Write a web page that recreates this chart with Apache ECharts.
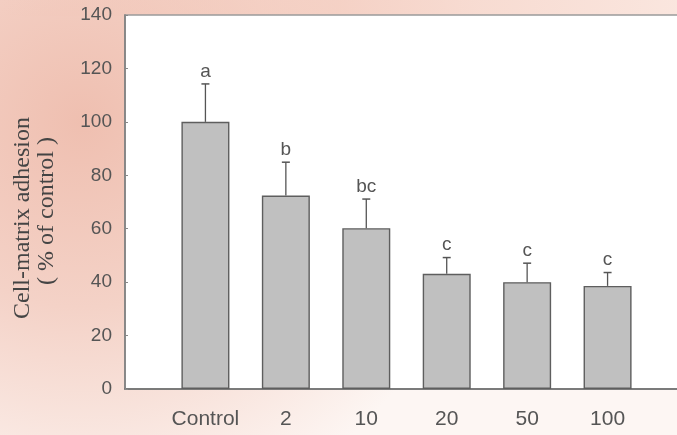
<!DOCTYPE html>
<html>
<head>
<meta charset="utf-8">
<script src="https://cdn.jsdelivr.net/npm/echarts@6/dist/echarts.min.js"></script>
<style>html,body{margin:0;padding:0;background:#fff}#c{width:677px;height:435px}</style>
</head>
<body>
<div id="c"></div>
<script>
var categories = ['Control', '2', '10', '20', '50', '100'];
var means = [100, 72.4, 60.2, 43.1, 40.0, 38.6];
var sds = [14.2, 12.5, 10.9, 6.1, 7.1, 5.0];
var letters = ['a', 'b', 'bc', 'c', 'c', 'c'];
var yTicks = [0, 20, 40, 60, 80, 100, 120, 140];

var axisData = [''].concat(categories).concat(['']);
var barData = [null].concat(means).concat([null]);
var errData = categories.map(function (c, i) { return [i + 1, means[i], means[i] + sds[i]]; });

var sans = "'Liberation Sans', Arial, sans-serif";
var serif = "'Liberation Serif', 'Times New Roman', serif";
var chart = echarts.init(document.getElementById('c'));
chart.setOption({
  animation: false,
  backgroundColor: new echarts.graphic.RadialGradient(0.12, 0.28, 0.95, [
    {offset: 0, color: '#efbfb0'},
    {offset: 0.45, color: '#f4d2c7'},
    {offset: 1, color: '#fdf6f3'}
  ]),
  graphic: [
    {type: 'rect', left: 0, top: 0, z: -1, shape: {width: 677, height: 16},
     style: {fill: new echarts.graphic.LinearGradient(0, 0, 1, 0, [
       {offset: 0, color: 'rgba(240,195,180,0)'},
       {offset: 0.5, color: 'rgba(244,205,192,0.8)'},
       {offset: 1, color: 'rgba(250,228,220,0.9)'}
     ])}},
    {type: 'text', x: 23, y: 218, rotation: Math.PI / 2,
     style: {text: 'Cell-matrix adhesion', fill: '#444', font: "24px " + serif, align: 'center', verticalAlign: 'middle'}},
    {type: 'text', x: 47, y: 211, rotation: Math.PI / 2,
     style: {text: '( % of control )', fill: '#444', font: "24px " + serif, align: 'center', verticalAlign: 'middle'}}
  ],
  grid: {left: 125, top: 15, height: 374, width: 563, outerBoundsMode: 'none', containLabel: false,
         show: true, backgroundColor: '#ffffff', borderColor: '#9a9a9a', borderWidth: 1.6},
  xAxis: {
    type: 'category', data: axisData, boundaryGap: false,
    axisLine: {lineStyle: {color: '#6a6a6a', width: 1.6}},
    axisTick: {show: true, inside: true, length: 3, lineStyle: {color: '#888'}},
    axisLabel: {color: '#555', fontSize: 21, fontFamily: sans, margin: 20, interval: 0}
  },
  yAxis: {
    type: 'value', min: 0, max: 140, interval: 20,
    splitLine: {show: false},
    axisLine: {show: true, lineStyle: {color: '#808080', width: 1.6}},
    axisTick: {show: true, inside: true, length: 3, lineStyle: {color: '#888'}},
    axisLabel: {color: '#555', fontSize: 19, fontFamily: sans, margin: 13,
      formatter: function (v) { return yTicks.indexOf(v) >= 0 ? String(v) : ''; }}
  },
  series: [
    {type: 'bar', data: barData, barWidth: 48,
     itemStyle: {color: '#c0c0c0', borderColor: '#5e5e5e', borderWidth: 1.4}},
    {type: 'custom', data: errData, z: 5,
     renderItem: function (params, api) {
       var x = api.value(0);
       var top = api.coord([x, api.value(1)]);
       var hi = api.coord([x, api.value(2)]);
       var letter = letters[params.dataIndex];
       return {type: 'group', children: [
         {type: 'line', shape: {x1: top[0], y1: top[1], x2: hi[0], y2: hi[1]}, style: {stroke: '#555', lineWidth: 1.3}},
         {type: 'line', shape: {x1: hi[0] - 4, y1: hi[1], x2: hi[0] + 4, y2: hi[1]}, style: {stroke: '#555', lineWidth: 1.5}},
         {type: 'text', style: {text: letter, x: hi[0], y: hi[1] - 3, align: 'center', verticalAlign: 'bottom', fill: '#555', font: "19px " + sans}}
       ]};
     }}
  ]
});
</script>
</body>
</html>
